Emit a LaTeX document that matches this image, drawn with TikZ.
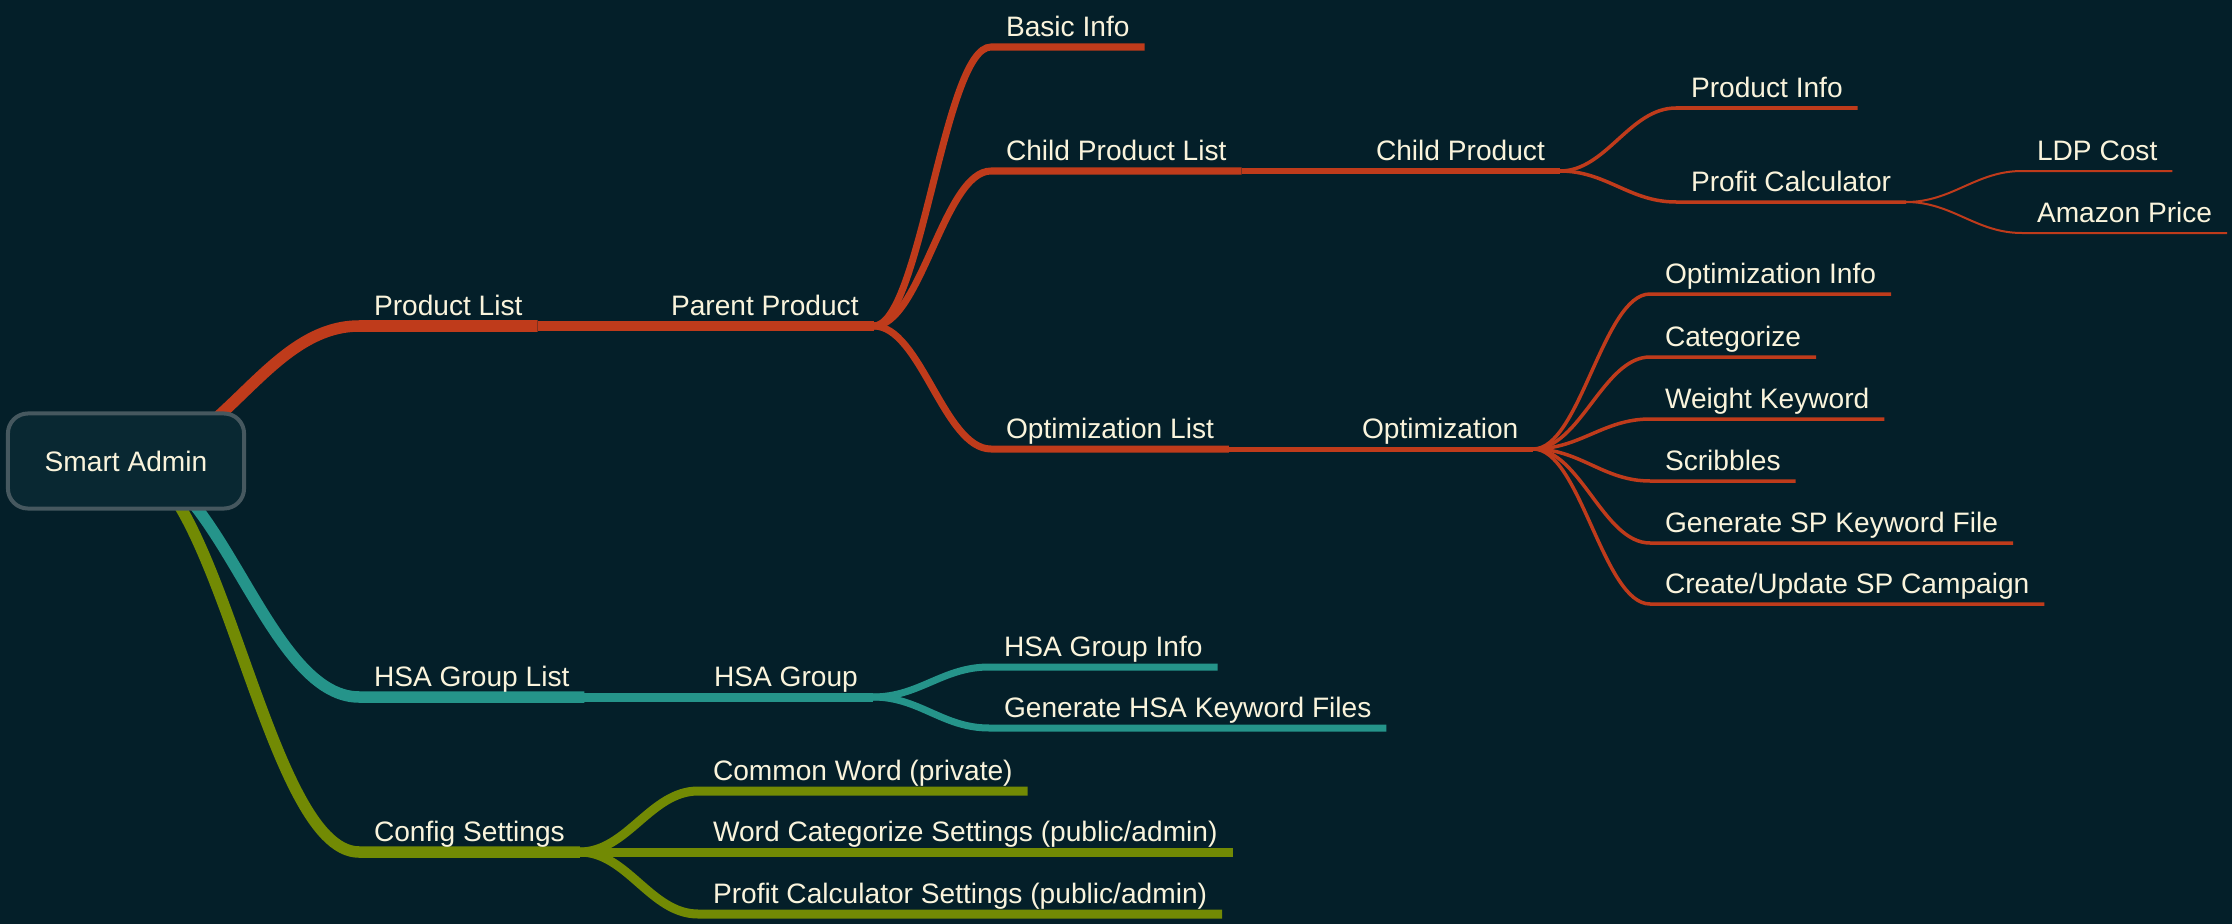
\documentclass[tikz,border=0pt]{standalone}
\usepackage{fontspec}
\setmainfont{Liberation Sans}
\usetikzlibrary{calc}
\definecolor{bgdark}{HTML}{041F29}
\definecolor{rootfill}{HTML}{092832}
\definecolor{rootline}{HTML}{46585F}
\definecolor{cream}{HTML}{FAF4DC}
\definecolor{prodred}{HTML}{BF3B1B}
\definecolor{hsateal}{HTML}{25948A}
\definecolor{cfgolive}{HTML}{728A04}
\pgfdeclarelayer{back}
\pgfsetlayers{back,main}

\begin{document}
\begin{tikzpicture}[x=0.01cm,y=-0.01cm,line cap=round,
  topic/.style={anchor=south west,inner xsep=0.15cm,inner ysep=0.105cm,outer sep=0pt,text depth=0pt,text=cream,font=\fontsize{8}{10}\selectfont},
  rootbox/.style={draw=rootline,fill=rootfill,line width=0.04cm,rounded corners=0.2cm,minimum width=2.36cm,minimum height=0.95cm,text=cream,font=\fontsize{8}{10}\selectfont},
  branch/.style={to path={let \p1=(\tikztostart),\p2=(\tikztotarget) in .. controls ({\x1+0.4*(\x2-\x1)},\y1) and ({\x1+0.6*(\x2-\x1)},\y2) .. (\tikztotarget)}},
  lv1/.style={line width=0.115cm},lv2/.style={line width=0.09cm},lv3/.style={line width=0.07cm},
  lv4/.style={line width=0.05cm},lv5/.style={line width=0.035cm},lv6/.style={line width=0.02cm}]
\begin{pgfonlayer}{back}
\fill[bgdark] (0,0) rectangle (2232,924);
\end{pgfonlayer}
\node[rootbox] (root) at (126,461) {Smart Admin};
% product branch
\node[topic] (pl) at (359,326) {Product List};
\node[topic] (pp) at (656,326) {Parent Product};
\node[topic] (bi) at (991,47) {Basic Info};
\node[topic] (cpl) at (991,171) {Child Product List};
\node[topic] (ol) at (991,449) {Optimization List};
\node[topic] (cp) at (1361,171) {Child Product};
\node[topic] (pi) at (1676,108) {Product Info};
\node[topic] (pc) at (1676,202) {Profit Calculator};
\node[topic] (ldp) at (2022,171) {LDP Cost};
\node[topic] (ap) at (2022,233) {Amazon Price};
\node[topic] (op) at (1347,449) {Optimization};
\node[topic] (oi) at (1650,294) {Optimization Info};
\node[topic] (cat) at (1650,357) {Categorize};
\node[topic] (wk) at (1650,419) {Weight Keyword};
\node[topic] (scr) at (1650,481) {Scribbles};
\node[topic] (gsp) at (1650,543) {Generate SP Keyword File};
\node[topic] (cus) at (1650,604) {Create/Update SP Campaign};
% hsa branch
\node[topic] (hgl) at (359,697) {HSA Group List};
\node[topic] (hg) at (699,697) {HSA Group};
\node[topic] (hgi) at (989,667) {HSA Group Info};
\node[topic] (ghk) at (989,728) {Generate HSA Keyword Files};
% config branch
\node[topic] (cs) at (359,852) {Config Settings};
\node[topic] (cw) at (698,791) {Common Word (private)};
\node[topic] (wcs) at (698,852) {Word Categorize Settings (public/admin)};
\node[topic] (pcs) at (698,914) {Profit Calculator Settings (public/admin)};
\begin{pgfonlayer}{back}
\draw[lv1,prodred] (root.center) to[branch] (pl.south west) -- (pl.south east);
\draw[lv2,prodred] (pl.south east) to[branch] (pp.south west) -- (pp.south east);
\foreach \k in {bi,cpl,ol}\draw[lv3,prodred] (pp.south east) to[branch] (\k.south west) -- (\k.south east);
\draw[lv4,prodred] (cpl.south east) to[branch] (cp.south west) -- (cp.south east);
\foreach \k in {pi,pc}\draw[lv5,prodred] (cp.south east) to[branch] (\k.south west) -- (\k.south east);
\foreach \k in {ldp,ap}\draw[lv6,prodred] (pc.south east) to[branch] (\k.south west) -- (\k.south east);
\draw[lv4,prodred] (ol.south east) to[branch] (op.south west) -- (op.south east);
\foreach \k in {oi,cat,wk,scr,gsp,cus}\draw[lv5,prodred] (op.south east) to[branch] (\k.south west) -- (\k.south east);
\draw[lv1,hsateal] (root.center) to[branch] (hgl.south west) -- (hgl.south east);
\draw[lv2,hsateal] (hgl.south east) to[branch] (hg.south west) -- (hg.south east);
\foreach \k in {hgi,ghk}\draw[lv3,hsateal] (hg.south east) to[branch] (\k.south west) -- (\k.south east);
\draw[lv1,cfgolive] (root.center) to[branch] (cs.south west) -- (cs.south east);
\foreach \k in {cw,wcs,pcs}\draw[lv2,cfgolive] (cs.south east) to[branch] (\k.south west) -- (\k.south east);
\end{pgfonlayer}
\end{tikzpicture}
\end{document}
